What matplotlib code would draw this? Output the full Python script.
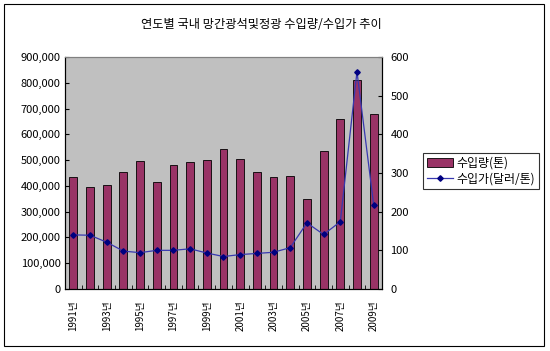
import matplotlib
matplotlib.use("Agg")
import matplotlib.pyplot as plt
from matplotlib.patches import Rectangle
from matplotlib.ticker import FuncFormatter

plt.rcParams['font.family'] = ['Noto Sans CJK KR', 'DejaVu Sans']

# 데이터
years = list(range(1991, 2010))
qty = [435000, 397000, 403000, 455000, 495000, 416000, 482000, 491000, 501000, 544000,
       505000, 455000, 433000, 439000, 349000, 535000, 660000, 809000, 680000]
price = [140, 139, 121, 98, 94, 100, 100, 104, 93, 84, 89, 92, 95, 107, 171, 141, 174, 562, 218]

title = "연도별 국내 망간광석및정광 수입량/수입가 추이"
qty_label = "수입량(톤)"
price_label = "수입가(달러/톤)"

W, H = 550, 351
fig = plt.figure(figsize=(W / 100, H / 100), dpi=100)

# 바깥 테두리
fig.patches.append(Rectangle((4 / W, 1 - 346 / H), 540 / W, 342 / H, transform=fig.transFigure,
                             fill=False, edgecolor='black', linewidth=0.8))

ax = fig.add_axes([65 / W, 1 - 289 / H, (382 - 65) / W, (289 - 57) / H])
ax.set_facecolor('#c0c0c0')
x = list(range(len(years)))
ax.bar(x, qty, width=0.47, color='#993366', edgecolor='black', linewidth=0.6, label=qty_label)
ax.set_xlim(-0.5, len(years) - 0.5)
ax.set_ylim(0, 900000)
ax.set_yticks(range(0, 900001, 100000))
ax.yaxis.set_major_formatter(FuncFormatter(lambda v, p: f"{int(v):,}"))
ax.set_xticks([i - 0.5 for i in range(len(years) + 1)], minor=True)
ax.set_xticks(x[::2])
ax.set_xticklabels([f"{y}년" for y in years[::2]], rotation=90, fontsize=7)
ax.tick_params(axis='x', which='major', length=0, pad=8)
ax.tick_params(axis='x', which='minor', length=3, direction='in')
ax.tick_params(axis='y', labelsize=8, length=3, direction='in', pad=3)
ax.spines['top'].set_color('#808080')

ax2 = ax.twinx()
ax2.plot(x, price, color='#3838b0', linewidth=0.9, marker='D', markersize=2.8,
         markerfacecolor='#000080', markeredgecolor='#000080', label=price_label)
ax2.set_ylim(0, 600)
ax2.set_yticks(range(0, 601, 100))
ax2.tick_params(axis='y', labelsize=8, length=3, direction='in', pad=6)
ax2.spines['top'].set_color('#808080')

fig.text(261 / W, 1 - 24 / H, title, ha='center', va='center', fontsize=8.8)

h1, l1 = ax.get_legend_handles_labels()
h2, l2 = ax2.get_legend_handles_labels()
leg = fig.legend(h1 + h2, l1 + l2, loc='upper left', bbox_to_anchor=(423 / W, 1 - 153 / H),
                 fontsize=8.6, frameon=True, fancybox=False, borderpad=0.3, handlelength=2.2,
                 handletextpad=0.3, labelspacing=0.25, borderaxespad=0)
leg.get_frame().set_edgecolor('black')
leg.get_frame().set_linewidth(0.8)

fig.savefig("out.png", dpi=100)
